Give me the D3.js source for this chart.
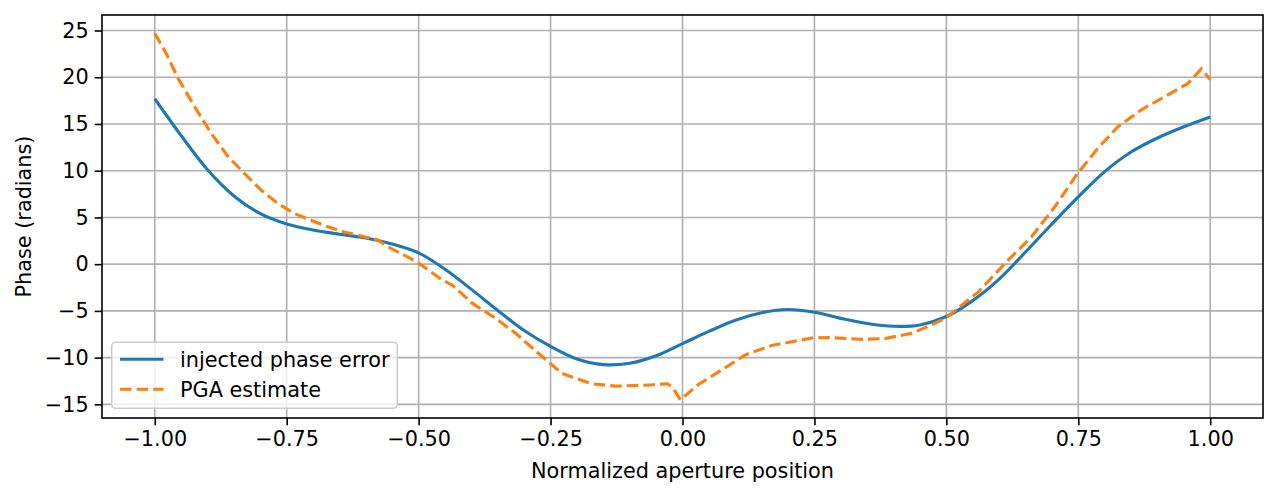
<!DOCTYPE html>
<html>
<head>
<meta charset="utf-8">
<script src="https://cdn.jsdelivr.net/npm/d3@7"></script>
<style>
    body { margin: 0; background: #fff; }
    svg { display: block; font-family: "DejaVu Sans", sans-serif; }
</style>
</head>
<body>
<div id="chart"></div>
<script>
// injected phase error (smooth curve)
const injectedX = [-1.00, -0.95, -0.90, -0.85, -0.80, -0.75, -0.70, -0.65, -0.60, -0.55,
    -0.50, -0.45, -0.40, -0.35, -0.30, -0.25, -0.20, -0.15, -0.10, -0.05,
    0.00, 0.05, 0.10, 0.15, 0.20, 0.25, 0.30, 0.35, 0.40, 0.45,
    0.50, 0.55, 0.60, 0.65, 0.70, 0.75, 0.80, 0.85, 0.90, 0.95, 1.00];
const injectedY = [17.7, 13.75, 10.1, 7.3, 5.4, 4.3, 3.65, 3.2, 2.8, 2.15,
    1.2, -0.55, -2.7, -4.95, -7.1, -8.8, -10.15, -10.75, -10.6, -9.8,
    -8.5, -7.2, -6.0, -5.2, -4.85, -5.15, -5.8, -6.35, -6.65, -6.5,
    -5.6, -3.9, -1.6, 1.3, 4.3, 7.2, 9.9, 12.0, 13.5, 14.7, 15.75];

// PGA estimate (dashed)
const pgaX = [-1.000, -0.978, -0.956, -0.924, -0.893, -0.861, -0.830, -0.798, -0.767, -0.735,
    -0.704, -0.672, -0.641, -0.578, -0.553, -0.515, -0.499, -0.455, -0.436, -0.398,
    -0.354, -0.316, -0.284, -0.251, -0.228, -0.203, -0.171, -0.127, -0.095, -0.051,
    -0.029, -0.020, -0.004, 0.031, 0.069, 0.119, 0.169, 0.245, 0.277, 0.340,
    0.384, 0.434, 0.472, 0.499, 0.560, 0.617, 0.661, 0.705, 0.746, 0.787,
    0.825, 0.869, 0.913, 0.957, 0.983, 1.000];
const pgaY = [24.7, 22.5, 19.9, 16.8, 14.0, 11.5, 9.7, 7.9, 6.5, 5.4,
    4.7, 4.0, 3.45, 2.6, 1.7, 0.6, 0.07, -1.7, -2.25, -4.2,
    -5.8, -7.4, -9.0, -10.6, -11.7, -12.2, -12.8, -13.05, -13.0, -12.9,
    -12.8, -13.1, -14.5, -12.85, -11.5, -9.7, -8.7, -7.9, -7.85, -8.05,
    -7.95, -7.4, -6.5, -5.75, -3.0, 0.43, 2.9, 6.1, 9.5, 12.4,
    14.7, 16.5, 17.9, 19.3, 20.9, 19.75];

const xTicks = [-1.00, -0.75, -0.50, -0.25, 0.00, 0.25, 0.50, 0.75, 1.00];
const yTicks = [-15, -10, -5, 0, 5, 10, 15, 20, 25];
const seriesNames = ["injected phase error", "PGA estimate"];
const seriesColors = ["#1f77b4", "#ff7f0e"];

const W = 1279, H = 497;
const mLeft = 102, mRight = 1263, mTop = 15, mBottom = 418;
const fs = 20.8;

const svg = d3.select("#chart").append("svg")
    .attr("width", W).attr("height", H);

const x = d3.scaleLinear().domain([-1.1, 1.1]).range([mLeft, mRight]);
const y = d3.scaleLinear().domain([-16.46, 26.66]).range([mBottom, mTop]);

const fmtX = v => d3.format(".2f")(v).replace("-", "\u2212");
const fmtY = v => String(v).replace("-", "\u2212");

// grid
svg.append("g").selectAll("line").data(xTicks).enter().append("line")
    .attr("x1", d => x(d)).attr("x2", d => x(d))
    .attr("y1", mTop).attr("y2", mBottom)
    .attr("stroke", "#b0b0b0").attr("stroke-width", 1.6);
svg.append("g").selectAll("line").data(yTicks).enter().append("line")
    .attr("x1", mLeft).attr("x2", mRight)
    .attr("y1", d => y(d)).attr("y2", d => y(d))
    .attr("stroke", "#b0b0b0").attr("stroke-width", 1.6);

// axes
const xAxis = d3.axisBottom(x).tickValues(xTicks).tickFormat(fmtX)
    .tickSize(7.3).tickPadding(6);
const yAxis = d3.axisLeft(y).tickValues(yTicks).tickFormat(fmtY)
    .tickSize(7.3).tickPadding(6);

const gx = svg.append("g").attr("transform", `translate(0,${mBottom})`).call(xAxis);
const gy = svg.append("g").attr("transform", `translate(${mLeft},0)`).call(yAxis);
[gx, gy].forEach(g => {
    g.select(".domain").remove();
    g.selectAll(".tick line").attr("stroke", "#000").attr("stroke-width", 1.6);
    g.selectAll(".tick text").attr("fill", "#000")
        .style("font-size", fs + "px").style("font-family", "DejaVu Sans");
});

// lines
const lineA = d3.line().x(d => x(d[0])).y(d => y(d[1]))
    .curve(d3.curveCatmullRom.alpha(0.5));
const lineB = d3.line().x(d => x(d[0])).y(d => y(d[1]));

svg.append("path")
    .datum(injectedX.map((v, i) => [v, injectedY[i]]))
    .attr("d", lineA).attr("fill", "none")
    .attr("stroke", seriesColors[0]).attr("stroke-width", 3.1);

svg.append("path")
    .datum(pgaX.map((v, i) => [v, pgaY[i]]))
    .attr("d", lineB).attr("fill", "none")
    .attr("stroke", seriesColors[1]).attr("stroke-width", 3.1)
    .attr("stroke-dasharray", "11.6,5");

// frame
svg.append("rect")
    .attr("x", mLeft).attr("y", mTop)
    .attr("width", mRight - mLeft).attr("height", mBottom - mTop)
    .attr("fill", "none").attr("stroke", "#000").attr("stroke-width", 1.6);

// axis labels
svg.append("text")
    .attr("x", (mLeft + mRight) / 2).attr("y", 478)
    .attr("text-anchor", "middle")
    .style("font-size", fs + "px")
    .text("Normalized aperture position");

svg.append("text")
    .attr("transform", `translate(31,${(mTop + mBottom) / 2}) rotate(-90)`)
    .attr("text-anchor", "middle")
    .style("font-size", fs + "px")
    .text("Phase (radians)");

// legend
const lg = svg.append("g");
lg.append("rect")
    .attr("x", 111.7).attr("y", 342.3)
    .attr("width", 285.6).attr("height", 66)
    .attr("rx", 4).attr("ry", 4)
    .attr("fill", "#fff").attr("fill-opacity", 0.8)
    .attr("stroke", "#cccccc").attr("stroke-width", 1.5);

seriesNames.forEach((name, i) => {
    const ly = 359.3 + i * 30;
    lg.append("line")
        .attr("x1", 120).attr("x2", 163.5)
        .attr("y1", ly).attr("y2", ly)
        .attr("stroke", seriesColors[i]).attr("stroke-width", 3.1)
        .attr("stroke-dasharray", i === 1 ? "11.6,5" : null);
    lg.append("text")
        .attr("x", 180).attr("y", ly).attr("dy", "0.36em")
        .style("font-size", fs + "px")
        .text(name);
});
</script>
</body>
</html>
